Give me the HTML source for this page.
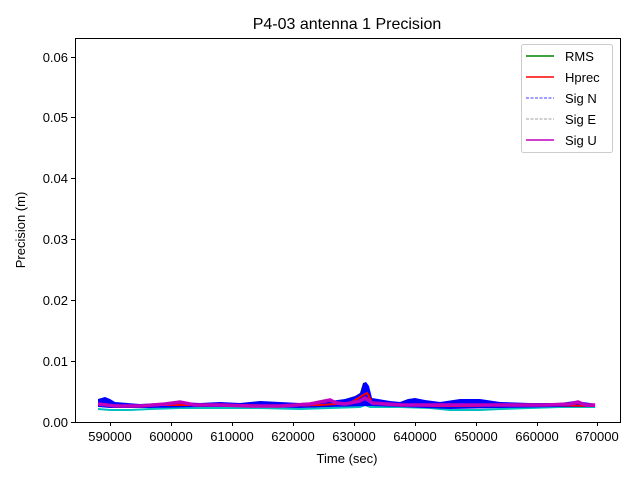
<!DOCTYPE html>
<html><head><meta charset="utf-8"><style>
body{margin:0;background:#fff;}
svg{display:block;font-family:"Liberation Sans","DejaVu Sans",sans-serif;}
</style></head><body>
<svg width="640" height="480" viewBox="0 0 640 480">
<rect width="640" height="480" fill="#fff"/>
<text x="347" y="29" font-size="16" text-anchor="middle">P4-03 antenna 1 Precision</text>
<!-- data -->
<polyline fill="none" stroke="#00bfbf" stroke-width="2" points="98,409 110,410 130,410 150,409 180,408 220,408 260,408 300,409 330,408 360,407 365,405 370,407 400,407 430,408 450,410 480,410 500,409 530,408 560,407 595,407"/>
<polygon fill="#0000ff" points="98,399 105,397 110,399 115,402 140,404 160,403 180,402 200,403 220,402 240,403 260,401 280,402 300,403 320,402 330,401 345,399 355,396 360,393 363,383 366,382 369,386 372,398 390,401 400,402 408,399 415,398 425,400 440,402 460,399 480,399 500,402 530,403 560,403 575,401 590,403 595,404 595,407 560,407 500,408 450,409 400,407 370,406 330,407 300,408 250,407 200,407 150,408 110,408 98,407"/>
<polyline fill="none" stroke="#ff0000" stroke-width="2" points="98,404 120,406 160,405 200,405 240,405 280,406 320,405 350,403 363,395 367,393 372,403 400,405 440,406 470,406 500,405 540,405 595,406"/>
<polyline fill="none" stroke="#bf00bf" stroke-width="3.5" points="98,404 115,406 140,406 165,404 180,402 195,405 220,405 250,406 280,406 310,404 330,400 336,403 345,404 360,401 365,398 372,403 400,405 440,405 480,405 520,405 545,405 570,404 578,402 585,405 595,405"/>
<!-- axes -->
<rect x="75.5" y="38.5" width="545" height="384" fill="none" stroke="#000" stroke-width="1"/>
<g stroke="#000" stroke-width="1">
<line x1="75" y1="422.5" x2="71" y2="422.5"/><line x1="75" y1="361.5" x2="71" y2="361.5"/><line x1="75" y1="300.5" x2="71" y2="300.5"/><line x1="75" y1="239.5" x2="71" y2="239.5"/><line x1="75" y1="178.5" x2="71" y2="178.5"/><line x1="75" y1="117.5" x2="71" y2="117.5"/><line x1="75" y1="57.5" x2="71" y2="57.5"/>
<line x1="110.5" y1="422" x2="110.5" y2="426"/><line x1="171.5" y1="422" x2="171.5" y2="426"/><line x1="232.5" y1="422" x2="232.5" y2="426"/><line x1="293.5" y1="422" x2="293.5" y2="426"/><line x1="354.5" y1="422" x2="354.5" y2="426"/><line x1="415.5" y1="422" x2="415.5" y2="426"/><line x1="476.5" y1="422" x2="476.5" y2="426"/><line x1="537.5" y1="422" x2="537.5" y2="426"/><line x1="597.5" y1="422" x2="597.5" y2="426"/>
</g>
<g font-size="13" text-anchor="end">
<text x="68" y="427">0.00</text><text x="68" y="366">0.01</text><text x="68" y="305">0.02</text><text x="68" y="244">0.03</text><text x="68" y="183">0.04</text><text x="68" y="122">0.05</text><text x="68" y="62">0.06</text>
</g>
<g font-size="13" text-anchor="middle">
<text x="110" y="441">590000</text><text x="171" y="441">600000</text><text x="232" y="441">610000</text><text x="293" y="441">620000</text><text x="354" y="441">630000</text><text x="415" y="441">640000</text><text x="476" y="441">650000</text><text x="537" y="441">660000</text><text x="597" y="441">670000</text>
<text x="347" y="463">Time (sec)</text>
</g>
<text transform="translate(25,230) rotate(-90)" font-size="13" text-anchor="middle">Precision (m)</text>
<!-- legend -->
<rect x="521.5" y="44.5" width="91" height="108" rx="2" fill="#fff" stroke="#ccc"/>
<g stroke-width="1.5">
<line x1="526" y1="56" x2="554" y2="56" stroke="#008000"/>
<line x1="526" y1="77" x2="554" y2="77" stroke="#ff0000"/>
<line x1="526" y1="98" x2="554" y2="98" stroke="#0000ff" stroke-width="0.8" stroke-dasharray="3,1.5"/>
<line x1="526" y1="119" x2="554" y2="119" stroke="#808080" stroke-width="0.8" stroke-dasharray="3,1.5"/>
<line x1="526" y1="140" x2="554" y2="140" stroke="#bf00bf"/>
</g>
<g font-size="13">
<text x="565" y="61">RMS</text><text x="565" y="82">Hprec</text><text x="565" y="103">Sig N</text><text x="565" y="124">Sig E</text><text x="565" y="145">Sig U</text>
</g>
</svg>
</body></html>
